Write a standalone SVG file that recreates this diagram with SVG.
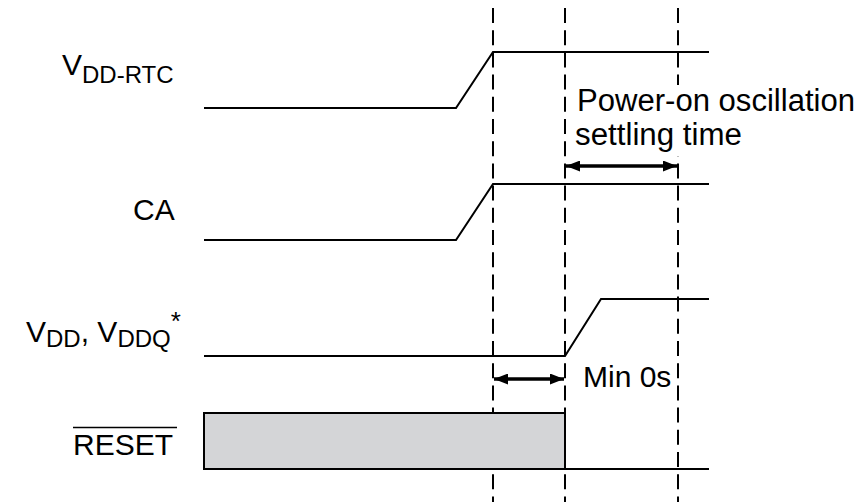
<svg xmlns="http://www.w3.org/2000/svg" width="863" height="502" viewBox="0 0 863 502">
<style>
.sig{fill:none;stroke:#000;stroke-width:2;stroke-linejoin:miter}
.dash{fill:none;stroke:#000;stroke-width:2;stroke-dasharray:15 7.2}
.arr{stroke:#000;stroke-width:3.5}
.t{font-family:"Liberation Sans",Arial,sans-serif;font-size:30px;fill:#000}
.s{font-size:24px}
.b{font-size:31px}
</style>
<defs>
<marker id="ah" viewBox="0 0 14 11" refX="14" refY="5.5" markerWidth="14" markerHeight="11" markerUnits="userSpaceOnUse" orient="auto-start-reverse">
<path d="M0,0 L14,5.5 L0,11 Z" fill="#000"/>
</marker>
</defs>
<rect width="863" height="502" fill="#fff"/>
<g id="connectors">
<line class="dash" x1="493" y1="8" x2="493" y2="502"/>
<line class="dash" x1="565" y1="8" x2="565" y2="502"/>
<line class="dash" x1="678" y1="8" x2="678" y2="502"/>
<line class="arr" x1="566" y1="166" x2="677" y2="166" marker-start="url(#ah)" marker-end="url(#ah)"/>
<line class="arr" x1="494" y1="379" x2="564" y2="379" marker-start="url(#ah)" marker-end="url(#ah)"/>
</g>
<g id="vddrtc">
<polyline class="sig" points="204,108 456,108 493,52 709,52"/>
<text class="t" x="62" y="75">V<tspan class="s" dy="8">DD-RTC</tspan></text>
</g>
<g id="ca">
<polyline class="sig" points="204,240 456,240 493,184 709,184"/>
<text class="t" x="133" y="220">CA</text>
</g>
<g id="vdd">
<polyline class="sig" points="204,356 565,356 601,299 709,299"/>
<text class="t" x="26" y="342">V<tspan class="s" dy="5">DD</tspan><tspan dy="-5">, V</tspan><tspan class="s" dy="5">DDQ</tspan><tspan class="s" dy="-17" style="font-size:26px">*</tspan></text>
</g>
<g id="reset">
<rect x="204" y="413" width="361" height="56" fill="#d4d5d7" stroke="#000" stroke-width="2"/>
<line class="sig" x1="565" y1="469" x2="709" y2="469"/>
<text class="t" x="73" y="455">RESET</text>
<line x1="73" y1="427.5" x2="177" y2="427.5" stroke="#000" stroke-width="1.5"/>
</g>
<g id="labels">
<rect x="570" y="85" width="290" height="71" fill="#fff"/>
<text class="t b" x="577" y="111" textLength="278" lengthAdjust="spacingAndGlyphs">Power-on oscillation</text>
<text class="t b" x="575" y="145" textLength="167" lengthAdjust="spacingAndGlyphs">settling time</text>
<text class="t" x="583" y="387">Min 0s</text>
</g>
</svg>
